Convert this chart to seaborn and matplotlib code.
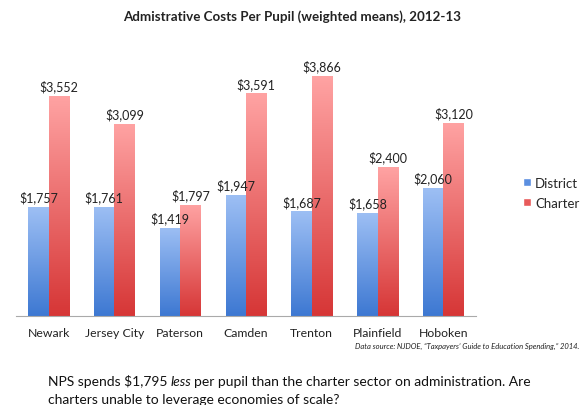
import numpy as np
import pandas as pd
import matplotlib
matplotlib.use("Agg")
import matplotlib.pyplot as plt
import seaborn as sns
from matplotlib.colors import LinearSegmentedColormap
from matplotlib.patches import Patch

cities = ["Newark", "Jersey City", "Paterson", "Camden", "Trenton", "Plainfield", "Hoboken"]
district = [1757, 1761, 1419, 1947, 1687, 1658, 2060]
charter = [3552, 3099, 1797, 3591, 3866, 2400, 3120]
series = ["District", "Charter"]
title = "Admistrative Costs Per Pupil (weighted means), 2012-13"
source = "Data source: NJDOE, \u201cTaxpayers\u2019 Guide to Education Spending,\u201d 2014."

sns.set_style("white")
plt.rcParams["font.family"] = ["Lato", "DejaVu Sans"]

df = pd.DataFrame({
    "City": cities * 2,
    "Sector": ["District"] * len(cities) + ["Charter"] * len(cities),
    "Cost": district + charter,
})

fig = plt.figure(figsize=(5.85, 4.06), dpi=100)
ax = fig.add_axes([0.027, 0.219, 0.787, 0.611])

pal = {"District": "#5b8fe0", "Charter": "#e85a5a"}
sns.barplot(data=df, x="City", y="Cost", hue="Sector", hue_order=series,
            palette=pal, width=0.62, gap=0, ax=ax, legend=False, saturation=1)

ax.set_ylim(0, 4000)
ax.set_xlim(-0.5, len(cities) - 0.5)

grad = {
    "District": LinearSegmentedColormap.from_list("d", ["#3d78d2", "#9dbff4"]),
    "Charter": LinearSegmentedColormap.from_list("c", ["#d63636", "#ffa3a3"]),
}
g = np.linspace(0, 1, 256).reshape(-1, 1)
n = len(cities)
for i, p in enumerate(ax.patches[:2 * n]):
    s = series[i // n]
    x0 = p.get_x()
    w, h = p.get_width(), p.get_height()
    im = ax.imshow(g, cmap=grad[s], origin="lower", aspect="auto",
                   extent=[x0, x0 + w, 0, h], zorder=2)
    im.set_clip_path(p)
    p.set_facecolor("none")
    p.set_edgecolor("none")
    ax.text(x0 + w / 2, h + 60, f"${int(round(h)):,}", ha="center", va="bottom",
            fontsize=9, color="#222222", zorder=3)

ax.set_xlim(-0.5, len(cities) - 0.5)
ax.set_ylim(0, 4000)
ax.set_xlabel("")
ax.set_ylabel("")
ax.set_yticks([])
for sp in ["top", "right", "left"]:
    ax.spines[sp].set_visible(False)
ax.spines["bottom"].set_color("#aaaaaa")
ax.tick_params(axis="x", which="major", length=0, labelsize=8.8, pad=8, colors="#222222")
ax.set_xticks(np.arange(-0.5, len(cities), 1.0), minor=True)
ax.tick_params(axis="x", which="minor", length=5, color="#aaaaaa", direction="out")

handles = [Patch(facecolor="#5b8fe0", label="District"),
           Patch(facecolor="#e85a5a", label="Charter")]
fig.legend(handles=handles, loc="upper left", bbox_to_anchor=(0.885, 0.575),
           frameon=False, fontsize=9.5, handlelength=0.6, handleheight=0.6,
           handletextpad=0.3, labelspacing=0.6, borderaxespad=0)

fig.text(0.5, 0.958, title, ha="center", va="center", fontsize=9.6,
         fontweight="bold", color="#222222")
fig.text(0.99, 0.147, source, ha="right", va="center", fontsize=5.5,
         style="italic", color="#222222")

y1 = 0.06
t1 = fig.text(0.082, y1, "NPS spends $1,795", ha="left", va="center", fontsize=10, color="#111111")
fig.canvas.draw()
sp_w = 3.0 / fig.bbox.width
x1 = t1.get_window_extent().x1 / fig.bbox.width + sp_w
t2 = fig.text(x1, y1, "less", ha="left", va="center", fontsize=10, style="italic", color="#111111")
x2 = t2.get_window_extent().x1 / fig.bbox.width + sp_w
fig.text(x2, y1, "per pupil than the charter sector on administration. Are",
         ha="left", va="center", fontsize=10, color="#111111")
fig.text(0.082, 0.015, "charters unable to leverage economies of scale?", ha="left",
         va="center", fontsize=10, color="#111111")

fig.savefig("out.png", dpi=100)
